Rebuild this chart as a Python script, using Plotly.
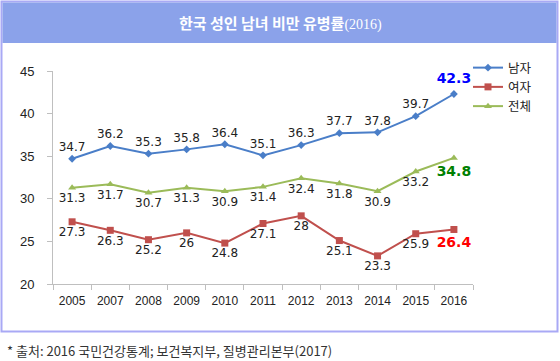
import plotly.graph_objects as go

years = ["2005", "2007", "2008", "2009", "2010", "2011", "2012", "2013", "2014", "2015", "2016"]
male = [34.7, 36.2, 35.3, 35.8, 36.4, 35.1, 36.3, 37.7, 37.8, 39.7, 42.3]
female = [27.3, 26.3, 25.2, 26, 24.8, 27.1, 28, 25.1, 23.3, 25.9, 26.4]
total = [31.3, 31.7, 30.7, 31.3, 30.9, 31.4, 32.4, 31.8, 30.9, 33.2, 34.8]
names = ["남자", "여자", "전체"]
title_main = "한국 성인 남녀 비만 유병률"
title_year = "(2016)"
source = "* 출처: 2016 국민건강통계; 보건복지부, 질병관리본부(2017)"

W, H = 560, 361
L, R, T, B = 53, 473, 71, 284
def px(x):
    return (x - L) / (R - L)
def py(y):
    return (B - y) / (B - T)

LABEL_FONT = "DejaVu Sans"
fig = go.Figure()
series = [
    (male, names[0], "#4A7EC8", "diamond", 6, "top center", "#0000FF"),
    (female, names[1], "#C0504D", "square", 7, "bottom center", "#FF0000"),
    (total, names[2], "#9BBB59", "triangle-up", 7, "bottom center", "#008000"),
]
for vals, nm, col, sym, ms, pos, lastcol in series:
    txt = [str(v) for v in vals[:-1]] + [""]
    fig.add_trace(go.Scatter(
        x=years, y=vals, name=nm, mode="lines+markers+text",
        line=dict(color=col, width=2), marker=dict(color=col, symbol=sym, size=ms),
        text=txt, textposition=pos,
        textfont=dict(family=LABEL_FONT, size=12, color="#222222"),
    ))
    fig.add_trace(go.Scatter(
        x=years[-1:], y=vals[-1:], mode="markers+text", showlegend=False,
        marker=dict(size=10, opacity=0),
        text=[str(vals[-1])], textposition=pos,
        textfont=dict(family=LABEL_FONT, size=14, color=lastcol, weight="bold"),
        hoverinfo="skip",
    ))

shapes = [
    dict(type="rect", xref="paper", yref="paper", x0=px(1.5), x1=px(557.5), y0=py(331.5), y1=py(1.5),
         line=dict(color="#A9A9F5", width=2), fillcolor="rgba(0,0,0,0)", layer="below"),
    dict(type="rect", xref="paper", yref="paper", x0=px(2.5), x1=px(556.5), y0=py(43), y1=py(2.5),
         line=dict(width=0), fillcolor="#8BA2EA", layer="below"),
]
annotations = [
    dict(text=title_main + '<span style="font-family:Liberation Serif;font-weight:normal;font-size:14px">' + title_year + "</span>",
         xref="paper", yref="paper", x=px(280), y=py(22), showarrow=False,
         xanchor="center", yanchor="middle",
         font=dict(family="Noto Sans CJK KR", size=15, color="white", weight="bold")),
    dict(text=source, xref="paper", yref="paper", x=px(5), y=py(350), showarrow=False,
         xanchor="left", yanchor="middle",
         font=dict(family="Noto Sans CJK KR", size=13, color="#333333")),
]

fig.update_layout(
    width=W, height=H,
    margin=dict(l=L, r=W - R, t=T, b=H - B),
    paper_bgcolor="white", plot_bgcolor="white",
    shapes=shapes, annotations=annotations,
    showlegend=True,
    legend=dict(x=px(468), y=py(53), xanchor="left", yanchor="top",
                font=dict(family="Noto Sans CJK KR", size=12.5, color="#222222"),
                tracegroupgap=0, itemwidth=30, bgcolor="rgba(0,0,0,0)"),
    xaxis=dict(type="category", showgrid=False, showline=True, linecolor="#BFBFBF", linewidth=1,
               ticks="outside", tickson="boundaries", ticklen=5, tickcolor="#BFBFBF",
               ticklabelstandoff=6,
               tickfont=dict(family="Liberation Sans", size=12, color="#222222"),
               range=[-0.5, 10.5], zeroline=False),
    yaxis=dict(range=[20, 45], dtick=5, showgrid=False, showline=True, linecolor="#BFBFBF",
               linewidth=1, ticks="outside", ticklen=5, tickcolor="#BFBFBF",
               ticklabelstandoff=10,
               tickfont=dict(family="Liberation Sans", size=13, color="#222222"), zeroline=False),
)

fig.write_html("out.html", config={"displayModeBar": False},
               post_script="document.body.style.margin='0';document.body.style.overflow='hidden';")
